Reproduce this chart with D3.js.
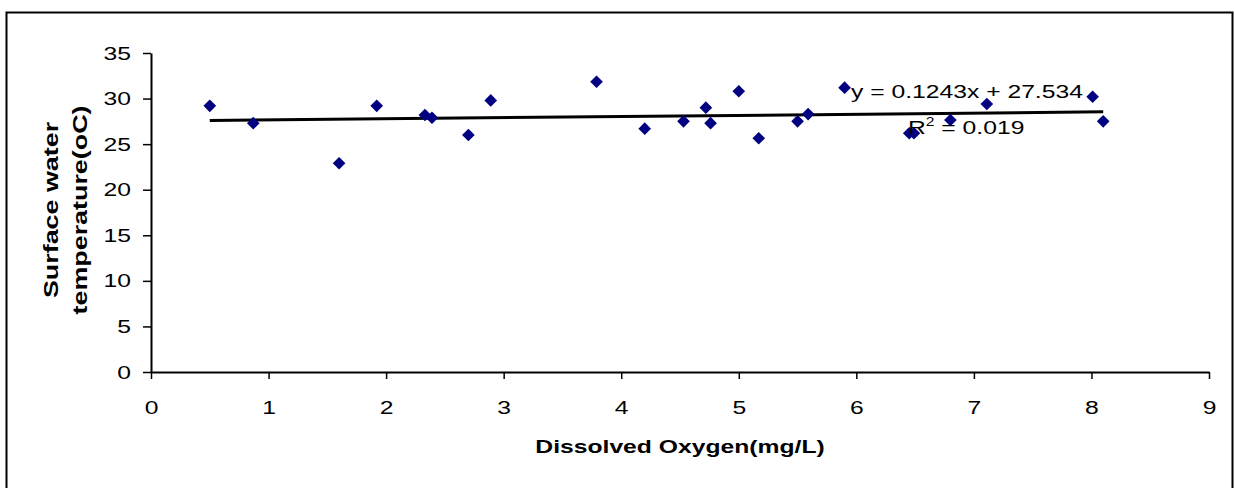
<!DOCTYPE html>
<html>
<head>
<meta charset="utf-8">
<script src="https://cdn.jsdelivr.net/npm/d3@7"></script>
<style>
  body { margin: 0; background: #fff; }
  text { font-family: "Liberation Sans", Arial, sans-serif; }
</style>
</head>
<body>
<div id="app"></div>
<script>
// values
const oxygen = [0.5, 0.87, 1.6, 1.92, 2.33, 2.39, 2.7, 2.89, 3.79, 4.2, 4.53, 4.72,
  4.76, 5.0, 5.17, 5.5, 5.59, 5.9, 6.45, 6.49, 6.8, 7.11, 8.01, 8.1];
const temperature = [29.2, 27.3, 22.9, 29.2, 28.2, 27.9, 26.0, 29.8, 31.85, 26.7, 27.5, 29.0,
  27.3, 30.8, 25.65, 27.5, 28.3, 31.2, 26.2, 26.2, 27.65, 29.4, 30.2, 27.5];
const xTicks = [0, 1, 2, 3, 4, 5, 6, 7, 8, 9];
const yTicks = [0, 5, 10, 15, 20, 25, 30, 35];
const slope = 0.1243,
  intercept = 27.534;
const equationText = "y = 0.1243x + 27.534";
const r2Value = "0.019";
const xTitle = "Dissolved Oxygen(mg/L)";
const yTitle = ["Surface water", "temperature(oC)"];

const width = 1234,
  height = 488,
  plot = { left: 151, right: 1209, top: 53, bottom: 372 },
  stretch = 1.3; // the original picture is stretched sideways

const data = oxygen.map((d, i) => ({ x: d, y: temperature[i] }));

const xScale = d3.scaleLinear().domain([0, 9]).range([plot.left, plot.right]);
const yScale = d3.scaleLinear().domain([0, 35]).range([plot.bottom, plot.top]);

const svg = d3
  .select("#app")
  .append("svg")
  .attr("width", width)
  .attr("height", height);

// outer frame
svg
  .append("rect")
  .attr("x", 6.5)
  .attr("y", 12.5)
  .attr("width", 1226)
  .attr("height", 490)
  .attr("fill", "none")
  .attr("stroke", "#000")
  .attr("stroke-width", 2);

const xAxis = (g) =>
  g
    .attr("transform", `translate(0,${plot.bottom})`)
    .call(d3.axisBottom(xScale).tickValues(xTicks).tickSize(7).tickSizeOuter(0))
    .call((g) => g.attr("font-size", 19).attr("font-family", null))
    .call((g) => g.select(".domain").attr("stroke-width", 2))
    .call((g) => g.selectAll(".tick line").attr("stroke-width", 1.5))
    .call((g) =>
      g
        .selectAll(".tick text")
        .attr("y", 29)
        .attr("dy", "0.71em")
        .attr("fill", "#000")
        .attr("transform", `scale(${stretch},1)`)
    );

const yAxis = (g) =>
  g
    .attr("transform", `translate(${plot.left},0)`)
    .call(d3.axisLeft(yScale).tickValues(yTicks).tickSize(8).tickSizeOuter(0))
    .call((g) => g.attr("font-size", 19).attr("font-family", null))
    .call((g) => g.select(".domain").attr("stroke-width", 2))
    .call((g) => g.selectAll(".tick line").attr("stroke-width", 1.5))
    .call((g) =>
      g
        .selectAll(".tick text")
        .attr("x", -20 / stretch)
        .attr("fill", "#000")
        .attr("transform", `scale(${stretch},1)`)
    );

svg.append("g").attr("class", "x-axis").call(xAxis);
svg.append("g").attr("class", "y-axis").call(yAxis);

// linear trendline
const xExtent = d3.extent(oxygen);
svg
  .append("line")
  .attr("x1", xScale(xExtent[0]))
  .attr("y1", yScale(slope * xExtent[0] + intercept))
  .attr("x2", xScale(xExtent[1]))
  .attr("y2", yScale(slope * xExtent[1] + intercept))
  .attr("stroke", "#000")
  .attr("stroke-width", 3);

// points
svg
  .append("g")
  .attr("fill", "#000080")
  .selectAll("path")
  .data(data)
  .join("path")
  .attr("d", d3.symbol(d3.symbolSquare, 80))
  .attr("transform", (d) => `translate(${xScale(d.x)},${yScale(d.y)}) rotate(45)`);

// equation labels
svg
  .append("text")
  .attr("transform", `translate(851,98) scale(${stretch},1)`)
  .attr("font-size", 19)
  .text(equationText);

const r2 = svg
  .append("text")
  .attr("transform", `translate(908,134) scale(${stretch},1)`)
  .attr("font-size", 19);
r2.append("tspan").text("R");
r2.append("tspan").attr("font-size", 12).attr("dy", -8).text("2");
r2.append("tspan").attr("dy", 8).text(" = " + r2Value);

// axis titles
svg
  .append("text")
  .attr("transform", `translate(680,453) scale(${stretch},1)`)
  .attr("text-anchor", "middle")
  .attr("font-size", 19)
  .attr("font-weight", "bold")
  .text(xTitle);

svg
  .append("g")
  .selectAll("text")
  .data(yTitle)
  .join("text")
  .attr("transform", (d, i) => `translate(${58 + i * 29},210) rotate(-90) scale(1.28,1)`)
  .attr("text-anchor", "middle")
  .attr("font-size", 21)
  .attr("font-weight", "bold")
  .text((d) => d);
</script>
</body>
</html>
